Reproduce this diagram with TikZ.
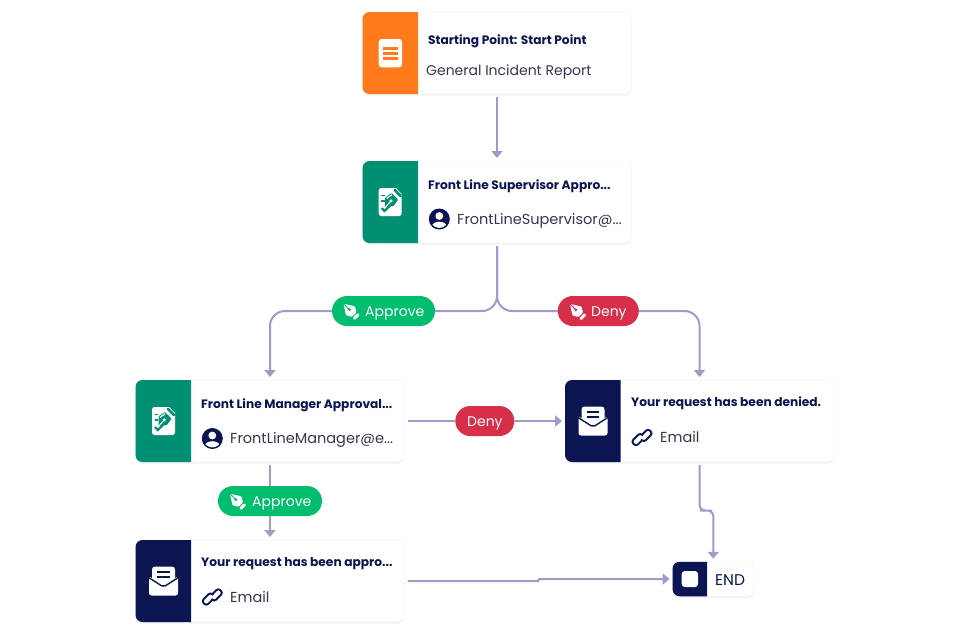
\documentclass[tikz,border=0pt]{standalone}
\usepackage{fontspec}
\setmainfont{Poppins}
\usetikzlibrary{arrows.meta,shadows,calc}
\definecolor{inkNavy}{HTML}{0A1551}
\definecolor{subInk}{HTML}{33384F}
\definecolor{lineInk}{HTML}{9C9CC9}
\definecolor{orangeP}{HTML}{FF7A1A}
\definecolor{tealP}{HTML}{008F72}
\definecolor{greenP}{HTML}{00BE6E}
\definecolor{redP}{HTML}{D72F4A}
\tikzset{
  card/.style={fill=white,draw=black!4,line width=.5pt,rounded corners=7pt,inner sep=0pt,outer sep=0pt,
    general shadow={shadow xshift=0pt,shadow yshift=-2pt,fill=black,opacity=.03},
    general shadow={shadow xshift=0pt,shadow yshift=-1pt,fill=black,opacity=.04}},
  pill/.style={rounded corners=15pt,minimum height=30pt,inner sep=0pt,outer sep=0pt,text=white},
  titletext/.style={anchor=base west,inner sep=0pt,text=inkNavy,font=\fontsize{12.2pt}{14pt}\selectfont\bfseries},
  subtext/.style={anchor=base west,inner sep=0pt,text=subInk,font=\fontsize{14.5pt}{16pt}\selectfont},
  pilltext/.style={anchor=base west,inner sep=0pt,text=white,font=\fontsize{14pt}{16pt}\selectfont},
  wire/.style={draw=lineInk,line width=2pt},
  flow/.style={wire,-{Triangle[width=11pt,length=7pt]},shorten >=3pt},
}
\newcommand\panelfill[3]{\fill[#3] ([xshift=#2]#1.north west) [rounded corners=7pt] -- (#1.north west) -- (#1.south west) [sharp corners] -- ([xshift=#2]#1.south west) -- cycle;}
\newcommand\nibmark[3]{\begin{scope}[shift={(#1,#2)}]
  \fill[white,rounded corners=1pt] (-8,-8) -- (3.5,-5.5) -- (5,.5) -- (.5,5) -- (-5.5,3.5) -- cycle;
  \draw[#3,line width=.9pt] (-8,-8) -- (-2.5,-2.5);
  \fill[#3] (-2.2,-2.2) circle (1.6);
  \draw[white,line width=3pt,line cap=round] (3,6.5) -- (6.5,3);
\end{scope}}
\newcommand\sheetmark[2]{\begin{scope}[shift={(#1,#2)}]
  \fill[white,rounded corners=2.5pt] (-11.5,-14) rectangle (11.5,14);
  \fill[tealP,rounded corners=2pt] (5,-15) -- (12.5,-15) -- (12.5,-7) -- cycle;
  \fill[tealP,rounded corners=.8pt] (-5,5.5) -- (-5,-4.5) -- (1.5,-9) -- (8,-2.5) -- (3.5,4) -- cycle;
  \fill[white] (.8,-1.2) circle (1.7);
  \draw[white,line width=1pt] (-5,5.5) -- (.8,-1.2);
  \draw[white,line width=1.2pt] (-3.6,-3.6) -- (1.6,-7.2);
  \draw[tealP,line width=2.6pt,line cap=round] (4.5,-12) -- (10.5,-6);
  \draw[white,line width=1pt] (2.7,-10.5) -- (9,-4.2);
  \draw[tealP,line width=1.9pt] (-9,-6.5) -- (-5.5,-6.5) (-9,-1) -- (-5.5,-1);
  \draw[tealP,line width=2.2pt] (-8.5,6) -- (-5.8,9) -- (-1,4.5);
\end{scope}}
\newcommand\mailmark[2]{\begin{scope}[shift={(#1,#2)}]
  \fill[white,rounded corners=3pt] (-11.5,-14.5) rectangle (11.5,4);
  \draw[inkNavy,line width=2pt] (-6.3,-8.7) -- (6.3,-8.7) (-6.3,-3.7) -- (6.3,-3.7);
  \fill[white,rounded corners=2.5pt] (-14.5,-5) -- (0,5.5) -- (14.5,-5) -- (14.5,14.5) -- (-14.5,14.5) -- cycle;
  \draw[inkNavy,line width=1.4pt,rounded corners=2pt] (-15,-3.6) -- (0,6) -- (15,-3.6);
\end{scope}}
\newcommand\personmark[2]{\begin{scope}[shift={(#1,#2)}]
  \fill[inkNavy] (0,0) circle (10.5);
  \fill[white] (0,-3) circle (3.9);
  \begin{scope}\clip (0,0) circle (8.9);
    \fill[white] (0,7.5) ellipse (7.5 and 4.8);
  \end{scope}
\end{scope}}
\newcommand\linkmark[2]{\begin{scope}[shift={(#1,#2)},rotate=45]
  \draw[inkNavy,line width=1.9pt,rounded corners=2.8pt] (-2,2) -- (-10.5,2) -- (-10.5,-4.6) -- (2,-4.6) -- (2,-.8);
  \draw[inkNavy,line width=1.9pt,rounded corners=2.8pt] (2,-2) -- (10.5,-2) -- (10.5,4.6) -- (-2,4.6) -- (-2,.8);
\end{scope}}
\begin{document}
\begin{tikzpicture}[x=1pt,y=-1pt]
\useasboundingbox[fill=white] (0,0) rectangle (968,633);
% cards
\node[card,minimum width=269pt,minimum height=82pt] (start) at (497,53) {};
\node[card,minimum width=269pt,minimum height=82pt] (fls) at (497,202) {};
\node[card,minimum width=269pt,minimum height=82pt] (mgr) at (270,421) {};
\node[card,minimum width=269pt,minimum height=82pt] (appr) at (270,581) {};
\node[card,minimum width=269pt,minimum height=82pt] (denied) at (699.5,421) {};
\node[card,minimum width=81.5pt,minimum height=34.5pt,rounded corners=6pt] (end) at (713.3,579) {};
\panelfill{start}{55.5pt}{orangeP}
\panelfill{fls}{55.5pt}{tealP}
\panelfill{mgr}{55.5pt}{tealP}
\panelfill{appr}{55.5pt}{inkNavy}
\panelfill{denied}{55.5pt}{inkNavy}
\panelfill{end}{34.5pt}{inkNavy}
% pills
\node[pill,fill=greenP,minimum width=103pt] (apr) at (383.5,311) {};
\node[pill,fill=redP,minimum width=81pt] (dny) at (598.3,311) {};
\node[pill,fill=redP,minimum width=59pt] (dmid) at (484.8,421) {};
\node[pill,fill=greenP,minimum width=104pt] (alow) at (270,501) {};
% helper points
\coordinate (bend) at (706,510.5);
\coordinate (jogA) at (538,581);
\coordinate (jogB) at (539,579);
% connectors
\draw[flow,shorten <=3pt] (start) -- (fls);
\draw[wire,rounded corners=15pt,shorten <=3pt] (fls.south) |- (apr.east);
\draw[flow,rounded corners=15pt] (apr.west) -| (mgr.north);
\draw[wire,rounded corners=15pt,shorten <=3pt] (fls.south) |- (dny.west);
\draw[flow,rounded corners=15pt] (dny.east) -| (denied.north);
\draw[wire,shorten <=3pt] (mgr.east) -- (dmid.west);
\draw[flow] (dmid.east) -- (denied.west);
\draw[wire,shorten <=3pt] (mgr.south) -- (alow.north);
\draw[flow] (alow.south) -- (appr.north);
\draw[flow,shorten <=3pt] (appr.east) -- (jogA) -- (jogB) -- (end.west);
\draw[flow,rounded corners=6pt,shorten <=3pt] (denied.south) |- (bend) -| (end.north);
% texts
\node[titletext] (t1) at (428,44.5) {Starting Point: Start Point};
\node[subtext,font=\fontsize{14pt}{16pt}\selectfont] (s1) at (426,75) {General Incident Report};
\node[titletext] (t2) at (428,189.5) {Front Line Supervisor Appro...};
\node[subtext] (s2) at (457,224) {FrontLineSupervisor@...};
\node[titletext] (t3) at (201,408.5) {Front Line Manager Approval...};
\node[subtext] (s3) at (230,443) {FrontLineManager@e...};
\node[titletext] (t4) at (201,566.5) {Your request has been appro...};
\node[subtext] (s4) at (230,602) {Email};
\node[titletext] (t5) at (631,406.5) {Your request has been denied.};
\node[subtext] (s5) at (660,442) {Email};
\node[subtext,text=inkNavy,font=\fontsize{15.5pt}{17pt}\selectfont] (t6) at (715,585) {END};
\node[pilltext] (p1) at (365,316) {Approve};
\node[pilltext] (p2) at (591,316) {Deny};
\node[pilltext] (p3) at (467,426) {Deny};
\node[pilltext] (p4) at (252,506) {Approve};
% icons
\fill[white,rounded corners=3pt] (378.7,39) rectangle (402,67.3);
\draw[orangeP,line width=2.8pt] (383.3,48.3) -- (397.7,48.3) (383.3,53.3) -- (397.7,53.3) (383.3,58.3) -- (397.7,58.3);
\sheetmark{390.2}{202}
\sheetmark{163.5}{421}
\mailmark{163.5}{581}
\mailmark{593}{421}
\fill[white,rounded corners=3pt] (681.7,571) rectangle (698,587);
\personmark{439.3}{219}
\personmark{212.3}{438.5}
\linkmark{212.3}{597}
\linkmark{642}{437.5}
\nibmark{351.5}{311.8}{greenP}
\nibmark{578}{312}{redP}
\nibmark{238}{501.8}{greenP}
\end{tikzpicture}
\end{document}
